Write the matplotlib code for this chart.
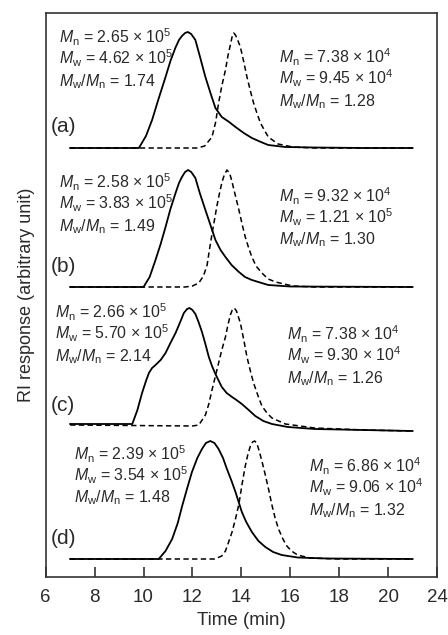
import matplotlib

matplotlib.use("Agg")
import matplotlib.pyplot as plt
from matplotlib import font_manager

plt.rcParams["font.family"] = ["Liberation Sans", "DejaVu Sans"]

# pick a sans family that actually has an italic face for the italic M
italic_family = "DejaVu Sans"
for fam in ["Liberation Sans", "Arimo", "Roboto", "Open Sans", "Lato", "Noto Sans", "Inter"]:
    path = font_manager.findfont(font_manager.FontProperties(family=fam, style="italic"), fallback_to_default=False)
    if "italic" in path.lower() or path.lower().endswith("i.ttf"):
        if fam.lower().replace(" ", "") in path.lower().replace(" ", "").replace("-", "").replace("_", ""):
            italic_family = fam
            break
plt.rcParams["mathtext.fontset"] = "custom"
plt.rcParams["mathtext.rm"] = "Liberation Sans"
plt.rcParams["mathtext.it"] = italic_family + ":italic"

# elution traces, heights (arbitrary RI units)
a_solid_t = [7.0, 9.0, 9.81, 10.1, 10.35, 10.6, 10.9, 11.1, 11.3, 11.45, 11.57, 11.7, 11.81, 11.95, 12.12,
             12.3, 12.53, 12.75, 12.94, 13.2, 13.5, 13.76, 14.1, 14.43, 14.8, 15.1, 15.8, 17.0, 19.0, 21.0]
a_solid_h = [0, 0, 0, 12, 28, 48, 71, 87, 100, 108, 112, 115, 116, 114, 108,
             92, 71, 54, 40, 31, 26, 21, 15, 10, 6, 3, 1, 0.5, 0, 0]
a_dash_t = [7.0, 12.2, 12.5, 12.8, 12.95, 13.07, 13.2, 13.35, 13.45, 13.55, 13.62, 13.69, 13.76, 13.85, 13.96,
            14.1, 14.23, 14.37, 14.5, 14.65, 14.78, 15.1, 15.5, 16.1, 17.0, 21.0]
a_dash_h = [0, 0, 2, 11, 26, 45, 62, 78, 92, 103, 111, 115, 113, 108, 101,
            86, 71, 57, 45, 34, 25, 11, 4, 1, 0, 0]

b_solid_t = [7.0, 9.8, 10.0, 10.25, 10.49, 10.7, 10.9, 11.1, 11.31, 11.45, 11.57, 11.7, 11.82, 11.95, 12.12,
             12.3, 12.53, 12.75, 12.94, 13.15, 13.35, 13.6, 13.9, 14.15, 14.43, 15.1, 16.0, 21.0]
b_solid_h = [0, 0, 0, 10, 27, 43, 60, 78, 94, 104, 110, 115, 117, 115, 109,
             94, 77, 61, 47, 37, 30, 22, 15, 10, 7, 2, 0.5, 0]
b_dash_t = [7.0, 11.7, 12.0, 12.26, 12.45, 12.6, 12.7, 12.8, 12.9, 13.0, 13.1, 13.2, 13.3, 13.41, 13.52,
            13.62, 13.75, 13.9, 14.03, 14.16, 14.3, 14.43, 14.6, 14.84, 15.1, 15.4, 16.1, 17.0, 21.0]
b_dash_h = [0, 0, 1, 4, 11, 22, 38, 53, 67, 81, 93, 104, 112, 117, 114,
            105, 92, 77, 63, 50, 39, 30, 21, 14, 8, 5, 1, 0, 0]

c_solid_t = [7.0, 9.54, 9.75, 9.94, 10.1, 10.22, 10.35, 10.49, 10.7, 10.9, 11.1, 11.31, 11.5, 11.65, 11.78,
             11.88, 12.0, 12.12, 12.25, 12.39, 12.53, 12.67, 12.8, 12.94, 13.2, 13.4, 13.62, 13.8, 14.02, 14.3,
             14.57, 14.9, 15.25, 15.9, 17.0, 19.0, 21.0]
c_solid_h = [0, 0, 14, 31, 43, 51, 56, 59, 64, 71, 81, 91, 102, 111, 115,
             116, 114, 110, 102, 92, 80, 67, 58, 50, 37, 31, 27, 24, 20, 14,
             8, 3, 0, -3, -5, -6, -7]
c_dash_t = [7.0, 12.0, 12.26, 12.53, 12.67, 12.8, 12.94, 13.07, 13.2, 13.35, 13.45, 13.55, 13.63, 13.71, 13.8,
            13.96, 14.1, 14.23, 14.37, 14.5, 14.67, 14.84, 15.05, 15.25, 15.8, 17.0, 19.0, 21.0]
c_dash_h = [-1, -2, -1, 9, 20, 34, 48, 61, 74, 87, 99, 109, 114, 116, 113,
            101, 84, 67, 53, 41, 29, 18, 11, 6, 0, -4, -6, -7]

d_solid_t = [7.0, 10.3, 10.62, 10.9, 11.17, 11.4, 11.58, 11.8, 11.98, 12.2, 12.39, 12.55, 12.73, 12.9, 13.07,
             13.25, 13.41, 13.6, 13.76, 14.02, 14.2, 14.43, 14.7, 14.98, 15.3, 15.65, 16.3, 17.5, 21.0]
d_solid_h = [0, 0, 0, 8, 20, 36, 53, 72, 87, 101, 110, 116, 118, 116, 110,
             101, 90, 78, 67, 47, 37, 27, 18, 12, 7, 4, 1.5, 0.5, 0]
d_dash_t = [7.0, 12.9, 13.2, 13.35, 13.48, 13.62, 13.76, 13.9, 14.03, 14.16, 14.27, 14.37, 14.46, 14.54, 14.63,
            14.73, 14.85, 14.98, 15.12, 15.25, 15.38, 15.52, 15.7, 15.86, 16.05, 16.3, 16.8, 18.0, 21.0]
d_dash_h = [0, 0, 3, 8, 17, 27, 40, 55, 75, 93, 105, 113, 117, 118, 116,
            108, 97, 84, 69, 54, 41, 30, 20, 13, 8, 4, 1, 0, 0]

panel_labels = ["(a)", "(b)", "(c)", "(d)"]
left_mn = ["2.65", "2.58", "2.66", "2.39"]
left_mw = ["4.62", "3.83", "5.70", "3.54"]
left_pdi = ["1.74", "1.49", "2.14", "1.48"]
right_mn = ["7.38 × 10$^4$", "9.32 × 10$^4$", "7.38 × 10$^4$", "6.86 × 10$^4$"]
right_mw = ["9.45 × 10$^4$", "1.21 × 10$^5$", "9.30 × 10$^4$", "9.06 × 10$^4$"]
right_pdi = ["1.28", "1.30", "1.26", "1.32"]

x_ticks = [6, 8, 10, 12, 14, 16, 18, 20, 22]
x_tick_labels = ["6", "8", "10", "12", "14", "16", "18", "20", "24"]

# layout (pixel positions measured on the reference)
AX_L, AX_R, AX_T, AX_B = 45.7, 437.0, 13.0, 577.0
baseline_px = [148, 287, 424, 559]
left_text_px = [(59, 43.5), (59, 188.5), (55, 318.5), (74, 460.0)]
right_text_px = [(279, 63.5), (279, 202.0), (287, 340.5), (309, 472.5)]
label_px = [(51, 132.5), (51, 272.5), (51, 411.0), (51, 544.5)]
LINE_STEP = 21.2
FONT = 11.4
TEXT_COLOR = "#2a2a2a"


def px_to_data(px, py):
    t = 6 + (px - AX_L) / (AX_R - AX_L) * 16
    return t, AX_B - py


fig = plt.figure(figsize=(4.48, 6.35), dpi=100)
ax = fig.add_axes([AX_L / 448, (635 - AX_B) / 635, (AX_R - AX_L) / 448, (AX_B - AX_T) / 635])
ax.set_xlim(6, 22)
ax.set_ylim(0, AX_B - AX_T)

traces = [
    (a_solid_t, a_solid_h, a_dash_t, a_dash_h),
    (b_solid_t, b_solid_h, b_dash_t, b_dash_h),
    (c_solid_t, c_solid_h, c_dash_t, c_dash_h),
    (d_solid_t, d_solid_h, d_dash_t, d_dash_h),
]
for i, (st, sh, dt, dh) in enumerate(traces):
    base = AX_B - baseline_px[i]
    ax.plot(st, [base + h for h in sh], color="black", lw=1.3)
    ax.plot(dt, [base + h for h in dh], color="black", lw=1.1, linestyle=(0, (3.5, 2.2)))

    x0, y0 = px_to_data(*left_text_px[i])
    lines = [
        "$M_\\mathrm{n}$ = " + left_mn[i] + " × 10$^5$",
        "$M_\\mathrm{w}$ = " + left_mw[i] + " × 10$^5$",
        "$M_\\mathrm{w}$/$M_\\mathrm{n}$ = " + left_pdi[i],
    ]
    for k, s in enumerate(lines):
        ax.text(x0, y0 - k * LINE_STEP, s, fontsize=FONT, va="baseline", ha="left", color=TEXT_COLOR)

    x1, y1 = px_to_data(*right_text_px[i])
    lines = [
        "$M_\\mathrm{n}$ = " + right_mn[i],
        "$M_\\mathrm{w}$ = " + right_mw[i],
        "$M_\\mathrm{w}$/$M_\\mathrm{n}$ = " + right_pdi[i],
    ]
    for k, s in enumerate(lines):
        ax.text(x1, y1 - k * LINE_STEP, s, fontsize=FONT, va="baseline", ha="left", color=TEXT_COLOR)

    lx, ly = px_to_data(*label_px[i])
    ax.text(lx, ly, panel_labels[i], fontsize=15, va="baseline", ha="left", color=TEXT_COLOR)

ax.set_xticks(x_ticks)
ax.set_xticklabels(x_tick_labels, fontsize=13.5)
ax.tick_params(axis="x", direction="in", length=7, width=1.1, pad=9, color="#222222", labelcolor=TEXT_COLOR)
ax.set_yticks([])
for sp in ax.spines.values():
    sp.set_linewidth(1.2)
    sp.set_color("#333333")
ax.set_xlabel("Time (min)", fontsize=13.5, labelpad=4, color=TEXT_COLOR)
ax.set_ylabel("RI response (arbitrary unit)", fontsize=13, labelpad=8, color=TEXT_COLOR)

fig.savefig("out.png", dpi=100)
